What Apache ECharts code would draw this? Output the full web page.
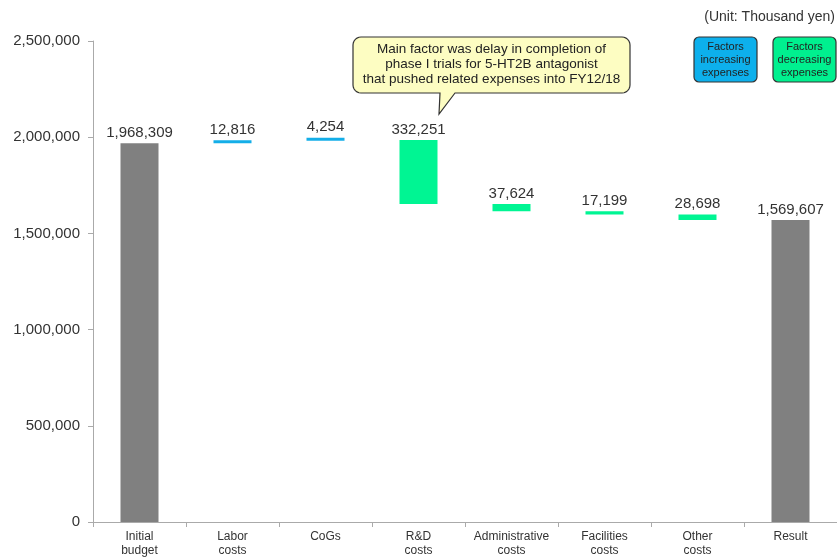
<!DOCTYPE html>
<html><head><meta charset="utf-8">
<script src="https://cdn.jsdelivr.net/npm/echarts@6/dist/echarts.min.js"></script>
<style>html,body{margin:0;padding:0;background:#fff}#c{width:837px;height:558px}</style>
</head><body><div id="c"></div>
<script>
var categories = ['Initial\nbudget','Labor\ncosts','CoGs','R&D\ncosts','Administrative\ncosts','Facilities\ncosts','Other\ncosts','Result'];
var initialBudget = 1968309;
var changes = [12816, 4254, -332251, -37624, -17199, -28698];
var resultValue = 1569607;
var yTicks = [0, 500000, 1000000, 1500000, 2000000, 2500000];

var FONT = '"Liberation Sans", Arial, sans-serif';
var base = [], total = [], inc = [], dec = [], labels = [];
var running = initialBudget;
base.push('-'); total.push(initialBudget); inc.push('-'); dec.push('-'); labels.push(initialBudget);
changes.forEach(function(d){
  var next = running + d;
  base.push(Math.min(running, next));
  total.push('-');
  if (d >= 0) { inc.push(d); dec.push('-'); } else { dec.push(-d); inc.push('-'); }
  labels.push(Math.abs(d));
  running = next;
});
base.push('-'); total.push(resultValue); inc.push('-'); dec.push('-'); labels.push(resultValue);

function fmt(v){ return v.toString().replace(/\B(?=(\d{3})+(?!\d))/g, ','); }
var lbl = {show:true, position:'top', distance:3, fontSize:15, color:'#333', fontFamily:FONT,
  formatter:function(p){ return fmt(labels[p.dataIndex]); }};

// callout outline (rounded box with tail)
function arc(cx, cy, r, a0, a1, pts){
  for (var i = 0; i <= 6; i++){ var a = a0 + (a1 - a0) * i / 6; pts.push([cx + r*Math.cos(a), cy + r*Math.sin(a)]); }
}
var bx0 = 353, bx1 = 630, by0 = 37, by1 = 93, br = 8, PI = Math.PI;
var callPts = [];
arc(bx0+br, by0+br, br, PI, 1.5*PI, callPts);
arc(bx1-br, by0+br, br, 1.5*PI, 2*PI, callPts);
arc(bx1-br, by1-br, br, 0, 0.5*PI, callPts);
callPts.push([455, by1], [439, 114], [440, by1]);
arc(bx0+br, by1-br, br, 0.5*PI, PI, callPts);

var chart = echarts.init(document.getElementById('c'), null, {renderer:'canvas'});
chart.setOption({
  animation:false,
  grid:{left:93, right:0, top:41, bottom:35},
  xAxis:{type:'category', data:categories,
    axisLine:{lineStyle:{color:'#aaa'}},
    axisTick:{show:true, length:5, lineStyle:{color:'#aaa'}},
    axisLabel:{color:'#333', fontSize:12, fontFamily:FONT, lineHeight:14, margin:8, interval:0}},
  yAxis:{type:'value', min:0, max:2500000, interval:500000,
    splitLine:{show:false},
    axisLine:{show:true, lineStyle:{color:'#aaa'}},
    axisTick:{show:true, length:5, lineStyle:{color:'#aaa'}},
    axisLabel:{color:'#333', fontSize:15, fontFamily:FONT, margin:13,
      formatter:function(v){ return yTicks.indexOf(v) >= 0 ? fmt(v) : ''; }}},
  series:[
    {type:'bar', stack:'w', data:base, barWidth:38, itemStyle:{color:'transparent'}, silent:true},
    {type:'bar', stack:'w', data:total, barWidth:38, itemStyle:{color:'#808080'}, label:lbl},
    {type:'bar', stack:'w', data:inc, barWidth:38, barMinHeight:3, itemStyle:{color:'#14aee8'}, label:lbl},
    {type:'bar', stack:'w', data:dec, barWidth:38, barMinHeight:3, itemStyle:{color:'#00f593'}, label:lbl}
  ],
  graphic:[
    {type:'text', x:835, y:10, style:{text:'(Unit: Thousand yen)', fill:'#333', font:'14px '+FONT, align:'right'}},
    {type:'rect', shape:{x:694, y:37, width:63, height:45, r:5}, style:{fill:'#0db0ec', stroke:'#333', lineWidth:1.2}},
    {type:'text', x:725.5, y:59.5, style:{text:'Factors\nincreasing\nexpenses', fill:'#222', font:'11px '+FONT, align:'center', verticalAlign:'middle', lineHeight:13}},
    {type:'rect', shape:{x:773, y:37, width:63, height:45, r:5}, style:{fill:'#00f08f', stroke:'#333', lineWidth:1.2}},
    {type:'text', x:804.5, y:59.5, style:{text:'Factors\ndecreasing\nexpenses', fill:'#222', font:'11px '+FONT, align:'center', verticalAlign:'middle', lineHeight:13}},
    {type:'polygon', shape:{points:callPts}, style:{fill:'#fdfdc2', stroke:'#333', lineWidth:1.2}},
    {type:'text', x:491.5, y:64.5, style:{text:'Main factor was delay in completion of\nphase I trials for 5-HT2B antagonist\nthat pushed related expenses into FY12/18', fill:'#222', font:'13.5px '+FONT, align:'center', verticalAlign:'middle', lineHeight:15}}
  ]
});
</script></body></html>
